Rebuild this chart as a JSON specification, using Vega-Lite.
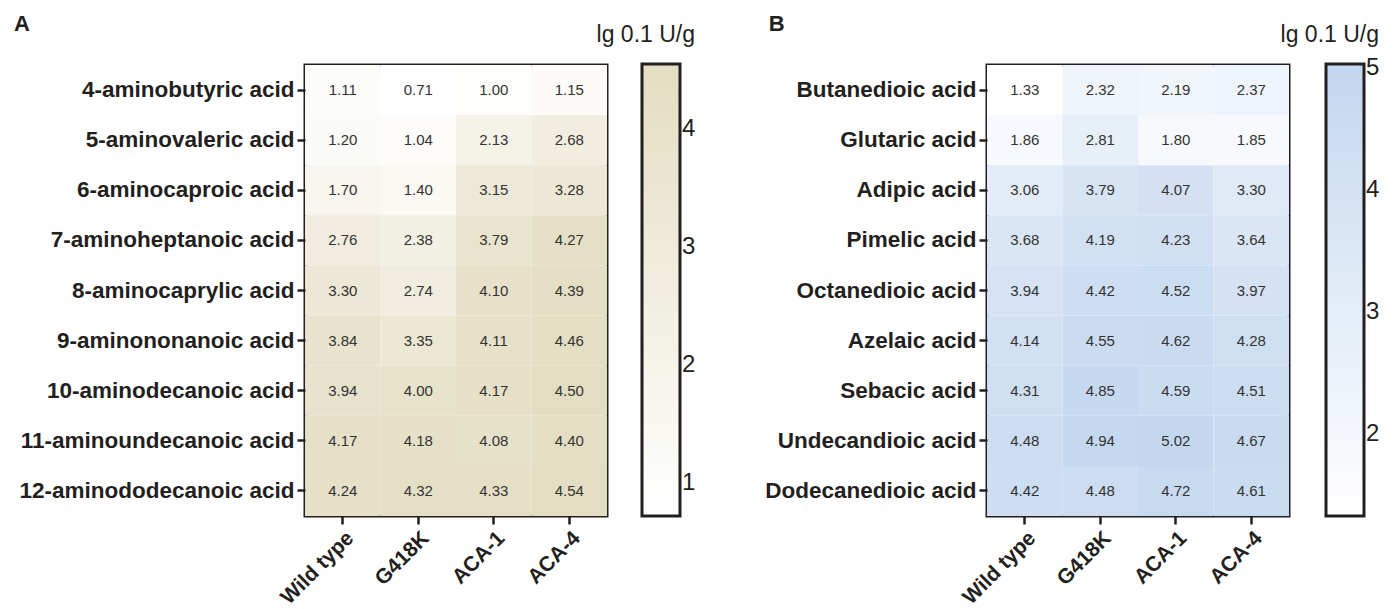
{
  "$schema": "https://vega.github.io/schema/vega-lite/v6.json",
  "padding": {"left": 12, "top": 11, "right": 0, "bottom": 0},
  "background": "white",
  "config": {
    "font": "Liberation Sans",
    "view": {"stroke": "#231f20", "strokeWidth": 3},
    "axis": {"domain": false, "tickColor": "#231f20", "tickWidth": 2.5, "tickSize": 8, "labelFontWeight": "bold", "labelColor": "#231f20", "labelPadding": 3, "labelLimit": 0, "title": null},
    "axisY": {"labelFontSize": 22.5},
    "axisX": {"labelFontSize": 21},
    "legend": {"gradientStrokeColor": "#231f20", "gradientStrokeWidth": 3, "labelFontSize": 24, "labelColor": "#231f20", "titleFontSize": 23, "titleFontWeight": "normal", "titleColor": "#231f20", "labelOffset": 13, "titlePadding": 17, "labelFont": "Liberation Sans", "titleFont": "Liberation Sans"}
  },
  "datasets": {
    "a": [
      {"acid": "4-aminobutyric acid", "strain": "Wild type", "v": 1.11}, {"acid": "4-aminobutyric acid", "strain": "G418K", "v": 0.71}, {"acid": "4-aminobutyric acid", "strain": "ACA-1", "v": 1.00}, {"acid": "4-aminobutyric acid", "strain": "ACA-4", "v": 1.15},
      {"acid": "5-aminovaleric acid", "strain": "Wild type", "v": 1.20}, {"acid": "5-aminovaleric acid", "strain": "G418K", "v": 1.04}, {"acid": "5-aminovaleric acid", "strain": "ACA-1", "v": 2.13}, {"acid": "5-aminovaleric acid", "strain": "ACA-4", "v": 2.68},
      {"acid": "6-aminocaproic acid", "strain": "Wild type", "v": 1.70}, {"acid": "6-aminocaproic acid", "strain": "G418K", "v": 1.40}, {"acid": "6-aminocaproic acid", "strain": "ACA-1", "v": 3.15}, {"acid": "6-aminocaproic acid", "strain": "ACA-4", "v": 3.28},
      {"acid": "7-aminoheptanoic acid", "strain": "Wild type", "v": 2.76}, {"acid": "7-aminoheptanoic acid", "strain": "G418K", "v": 2.38}, {"acid": "7-aminoheptanoic acid", "strain": "ACA-1", "v": 3.79}, {"acid": "7-aminoheptanoic acid", "strain": "ACA-4", "v": 4.27},
      {"acid": "8-aminocaprylic acid", "strain": "Wild type", "v": 3.30}, {"acid": "8-aminocaprylic acid", "strain": "G418K", "v": 2.74}, {"acid": "8-aminocaprylic acid", "strain": "ACA-1", "v": 4.10}, {"acid": "8-aminocaprylic acid", "strain": "ACA-4", "v": 4.39},
      {"acid": "9-aminononanoic acid", "strain": "Wild type", "v": 3.84}, {"acid": "9-aminononanoic acid", "strain": "G418K", "v": 3.35}, {"acid": "9-aminononanoic acid", "strain": "ACA-1", "v": 4.11}, {"acid": "9-aminononanoic acid", "strain": "ACA-4", "v": 4.46},
      {"acid": "10-aminodecanoic acid", "strain": "Wild type", "v": 3.94}, {"acid": "10-aminodecanoic acid", "strain": "G418K", "v": 4.00}, {"acid": "10-aminodecanoic acid", "strain": "ACA-1", "v": 4.17}, {"acid": "10-aminodecanoic acid", "strain": "ACA-4", "v": 4.50},
      {"acid": "11-aminoundecanoic acid", "strain": "Wild type", "v": 4.17}, {"acid": "11-aminoundecanoic acid", "strain": "G418K", "v": 4.18}, {"acid": "11-aminoundecanoic acid", "strain": "ACA-1", "v": 4.08}, {"acid": "11-aminoundecanoic acid", "strain": "ACA-4", "v": 4.40},
      {"acid": "12-aminododecanoic acid", "strain": "Wild type", "v": 4.24}, {"acid": "12-aminododecanoic acid", "strain": "G418K", "v": 4.32}, {"acid": "12-aminododecanoic acid", "strain": "ACA-1", "v": 4.33}, {"acid": "12-aminododecanoic acid", "strain": "ACA-4", "v": 4.54}
    ],
    "b": [
      {"acid": "Butanedioic acid", "strain": "Wild type", "v": 1.33}, {"acid": "Butanedioic acid", "strain": "G418K", "v": 2.32}, {"acid": "Butanedioic acid", "strain": "ACA-1", "v": 2.19}, {"acid": "Butanedioic acid", "strain": "ACA-4", "v": 2.37},
      {"acid": "Glutaric acid", "strain": "Wild type", "v": 1.86}, {"acid": "Glutaric acid", "strain": "G418K", "v": 2.81}, {"acid": "Glutaric acid", "strain": "ACA-1", "v": 1.80}, {"acid": "Glutaric acid", "strain": "ACA-4", "v": 1.85},
      {"acid": "Adipic acid", "strain": "Wild type", "v": 3.06}, {"acid": "Adipic acid", "strain": "G418K", "v": 3.79}, {"acid": "Adipic acid", "strain": "ACA-1", "v": 4.07}, {"acid": "Adipic acid", "strain": "ACA-4", "v": 3.30},
      {"acid": "Pimelic acid", "strain": "Wild type", "v": 3.68}, {"acid": "Pimelic acid", "strain": "G418K", "v": 4.19}, {"acid": "Pimelic acid", "strain": "ACA-1", "v": 4.23}, {"acid": "Pimelic acid", "strain": "ACA-4", "v": 3.64},
      {"acid": "Octanedioic acid", "strain": "Wild type", "v": 3.94}, {"acid": "Octanedioic acid", "strain": "G418K", "v": 4.42}, {"acid": "Octanedioic acid", "strain": "ACA-1", "v": 4.52}, {"acid": "Octanedioic acid", "strain": "ACA-4", "v": 3.97},
      {"acid": "Azelaic acid", "strain": "Wild type", "v": 4.14}, {"acid": "Azelaic acid", "strain": "G418K", "v": 4.55}, {"acid": "Azelaic acid", "strain": "ACA-1", "v": 4.62}, {"acid": "Azelaic acid", "strain": "ACA-4", "v": 4.28},
      {"acid": "Sebacic acid", "strain": "Wild type", "v": 4.31}, {"acid": "Sebacic acid", "strain": "G418K", "v": 4.85}, {"acid": "Sebacic acid", "strain": "ACA-1", "v": 4.59}, {"acid": "Sebacic acid", "strain": "ACA-4", "v": 4.51},
      {"acid": "Undecandioic acid", "strain": "Wild type", "v": 4.48}, {"acid": "Undecandioic acid", "strain": "G418K", "v": 4.94}, {"acid": "Undecandioic acid", "strain": "ACA-1", "v": 5.02}, {"acid": "Undecandioic acid", "strain": "ACA-4", "v": 4.67},
      {"acid": "Dodecanedioic acid", "strain": "Wild type", "v": 4.42}, {"acid": "Dodecanedioic acid", "strain": "G418K", "v": 4.48}, {"acid": "Dodecanedioic acid", "strain": "ACA-1", "v": 4.72}, {"acid": "Dodecanedioic acid", "strain": "ACA-4", "v": 4.61}
    ]
  },
  "resolve": {"scale": {"color": "independent"}, "legend": {"color": "independent"}},
  "spacing": 65,
  "hconcat": [
    {
      "width": 302, "height": 451,
      "data": {"name": "a"},
      "title": {"text": "A", "anchor": "start", "frame": "bounds", "fontSize": 22, "fontWeight": "bold", "color": "#231f20", "offset": -12, "dx": -5},
      "encoding": {
        "x": {"field": "strain", "type": "nominal", "sort": ["Wild type", "G418K", "ACA-1", "ACA-4"], "axis": {"labelAngle": -45}},
        "y": {"field": "acid", "type": "nominal", "sort": null}
      },
      "layer": [
        {"mark": {"type": "rect"}, "encoding": {"color": {"field": "v", "type": "quantitative", "scale": {"domain": [0.72, 4.55], "range": ["#ffffff", "#e3ddc1"], "interpolate": "rgb"}, "legend": {"orient": "none", "legendX": 292, "legendY": -41, "direction": "vertical", "gradientLength": 452, "gradientThickness": 38, "title": "lg 0.1 U/g", "values": [1, 2, 3, 4], "format": "d", "titleAnchor": "end"}}}},
        {"mark": {"type": "text", "fontSize": 15, "color": "#333333"}, "encoding": {"text": {"field": "v", "type": "quantitative", "format": ".2f"}}}
      ]
    },
    {
      "width": 302, "height": 451,
      "data": {"name": "b"},
      "title": {"text": "B", "anchor": "start", "frame": "bounds", "fontSize": 22, "fontWeight": "bold", "color": "#231f20", "offset": -12, "dx": 4},
      "encoding": {
        "x": {"field": "strain", "type": "nominal", "sort": ["Wild type", "G418K", "ACA-1", "ACA-4"], "axis": {"labelAngle": -45}},
        "y": {"field": "acid", "type": "nominal", "sort": null}
      },
      "layer": [
        {"mark": {"type": "rect"}, "encoding": {"color": {"field": "v", "type": "quantitative", "scale": {"domain": [1.33, 5.03], "range": ["#ffffff", "#c3d7ef"], "interpolate": "rgb"}, "legend": {"orient": "none", "legendX": 294, "legendY": -41, "direction": "vertical", "gradientLength": 452, "gradientThickness": 38, "title": "lg 0.1 U/g", "values": [2, 3, 4, 5], "format": "d", "titleAnchor": "end"}}}},
        {"mark": {"type": "text", "fontSize": 15, "color": "#333333"}, "encoding": {"text": {"field": "v", "type": "quantitative", "format": ".2f"}}}
      ]
    }
  ]
}
